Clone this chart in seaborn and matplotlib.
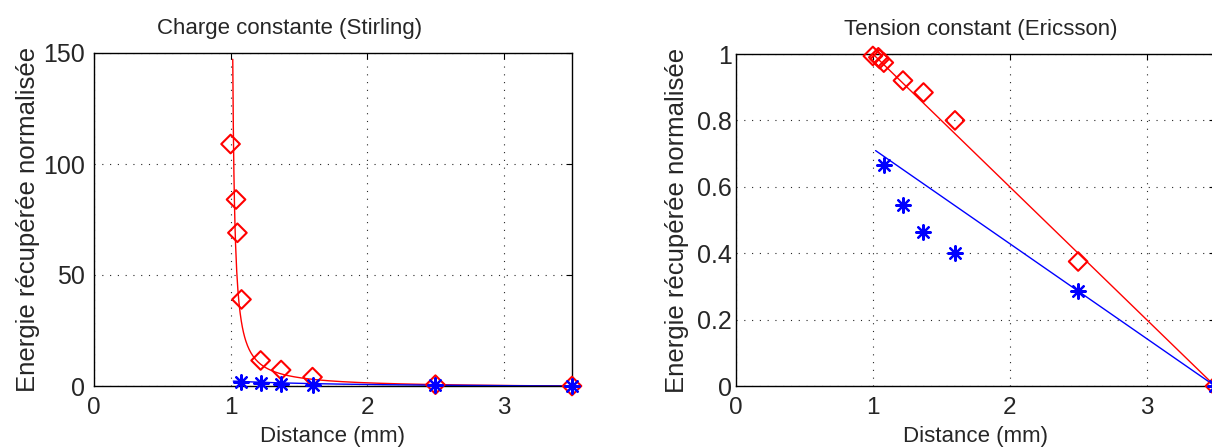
import numpy as np
import pandas as pd
import matplotlib
matplotlib.use("Agg")
import matplotlib.pyplot as plt
import seaborn as sns

# ---- data ----
dist_red = [1.00, 1.04, 1.05, 1.08, 1.22, 1.37, 1.60, 2.50, 3.50]
stirling_red = [109, 84, 69, 39, 11.5, 7.2, 4.0, 0.6, 0.0]
dist_blue = [1.08, 1.22, 1.37, 1.60, 2.50, 3.50]
stirling_blue = [2.0, 1.3, 0.9, 0.5, 0.3, 0.0]

ericsson_red = [0.994, 0.99, 0.985, 0.974, 0.92, 0.884, 0.80, 0.375, 0.0]
ericsson_blue = [0.667, 0.546, 0.465, 0.40, 0.285, 0.0]

# fit models (parameters estimated from the reference curves)
fit_red_A = 2.37      # A * (1/(x-1) - 1/2.5)
fit_blue_B = 3.17     # B * (1/x - 1/3.5)
fit_x_start_red = 1.016
fit_x_start_blue = 1.02
eric_fit_red_x = [1.0, 3.5]
eric_fit_red_y = [1.0, 0.0]
eric_fit_blue_x = [1.02, 3.5]
eric_fit_blue_y = [0.709, 0.0]

xticks = [0, 1, 2, 3]
yticks_left = [0, 50, 100, 150]
yticks_right = [0, 0.2, 0.4, 0.6, 0.8, 1]
yticklabels_right = ["0", "0.2", "0.4", "0.6", "0.8", "1"]

titles = ["Charge constante (Stirling)", "Tension constant (Ericsson)"]
ylabel = "Energie récupérée normalisée"
xlabel = "Distance (mm)"

sns.set_style("white")
plt.rcParams["font.family"] = ["Liberation Sans", "DejaVu Sans"]

fig = plt.figure(figsize=(12.12, 4.47), dpi=100)
ax1 = fig.add_axes([94 / 1212, 61 / 447, 478 / 1212, 333 / 447])
ax2 = fig.add_axes([736 / 1212, 61 / 447, 479 / 1212, 332 / 447])

# curves for the left panel
xr = np.linspace(fit_x_start_red, 3.5, 600)
yr = fit_red_A * (1 / (xr - 1) - 1 / 2.5)
xb = np.linspace(fit_x_start_blue, 3.5, 200)
yb = fit_blue_B * (1 / xb - 1 / 3.5)

asterisk = (8, 2, 0)

def style_axes(ax, yticks, ylim, ylabels=None, ypad=5, ylabelpad=4):
    ax.set_xlim(0, 3.5)
    ax.set_ylim(*ylim)
    ax.set_xticks(xticks)
    ax.set_xticklabels([str(t) for t in xticks])
    ax.set_yticks(yticks)
    if ylabels is not None:
        ax.set_yticklabels(ylabels)
    ax.grid(True, color="0.15", linestyle=(0, (1, 6)), linewidth=0.8)
    ax.tick_params(direction="in", length=4, width=0.8, labelsize=18,
                   top=True, right=True, color="black")
    ax.tick_params(axis="x", pad=8, labelsize=17.5)
    ax.tick_params(axis="y", pad=ypad)
    for s in ax.spines.values():
        s.set_visible(True)
        s.set_color("black")
        s.set_linewidth(1.0)
    ax.set_xlabel(xlabel, fontsize=16, labelpad=5)
    ax.set_ylabel(ylabel, fontsize=18.5, labelpad=ylabelpad)

# Left panel
sns.lineplot(x=xr, y=yr, ax=ax1, color="red", linewidth=1.0, sort=False, estimator=None)
sns.lineplot(x=xb, y=yb, ax=ax1, color="blue", linewidth=1.0, sort=False, estimator=None)
sns.scatterplot(x=dist_red, y=stirling_red, ax=ax1, marker="D", s=90,
                facecolor="none", edgecolor="red", linewidth=1.5, clip_on=False, zorder=4)
sns.scatterplot(x=dist_blue, y=stirling_blue, ax=ax1, marker=asterisk, s=110,
                color="blue", edgecolor="blue", linewidth=1.6, clip_on=False, zorder=5)
style_axes(ax1, yticks_left, (0, 150), ypad=6.5, ylabelpad=2)
ax1.set_title(titles[0], fontsize=16, pad=14, x=0.41)

# Right panel
sns.lineplot(x=eric_fit_red_x, y=eric_fit_red_y, ax=ax2, color="red", linewidth=1.0, sort=False, estimator=None)
sns.lineplot(x=eric_fit_blue_x, y=eric_fit_blue_y, ax=ax2, color="blue", linewidth=1.0, sort=False, estimator=None)
sns.scatterplot(x=dist_red, y=ericsson_red, ax=ax2, marker="D", s=90,
                facecolor="none", edgecolor="red", linewidth=1.5, clip_on=False, zorder=4)
sns.scatterplot(x=dist_blue, y=ericsson_blue, ax=ax2, marker=asterisk, s=110,
                color="blue", edgecolor="blue", linewidth=1.6, clip_on=False, zorder=5)
style_axes(ax2, yticks_right, (0, 1), yticklabels_right, ypad=3, ylabelpad=6)
ax2.set_title(titles[1], fontsize=16, pad=14, x=0.51)

for ax in (ax1, ax2):
    leg = ax.get_legend()
    if leg is not None:
        leg.remove()

fig.savefig("out.png", dpi=100)
